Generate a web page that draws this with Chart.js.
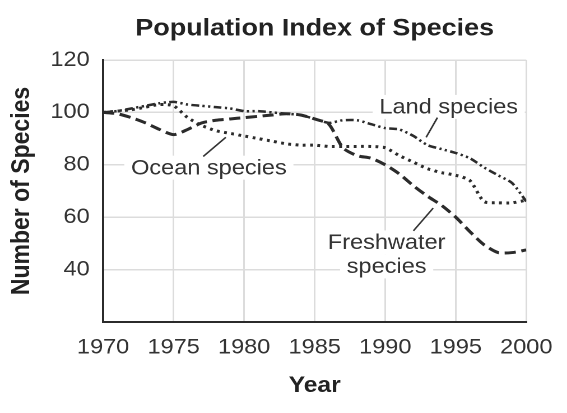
<!DOCTYPE html>
<html>
<head>
<meta charset="utf-8">
<script src="https://cdn.jsdelivr.net/npm/chart.js@4"></script>
<style>
  html, body { margin: 0; padding: 0; background: #fff; overflow: hidden; }
  #wrap { width: 506px; height: 413px; transform: scaleX(1.1206); transform-origin: 0 0; }
</style>
</head>
<body>
<div id="wrap"><canvas id="chart" width="506" height="413"></canvas></div>
<script>
const years = [1970, 1971, 1972, 1973, 1974, 1975, 1976, 1977, 1978, 1979,
               1980, 1981, 1982, 1983, 1984, 1985, 1986, 1987, 1988, 1989,
               1990, 1991, 1992, 1993, 1994, 1995, 1996, 1997, 1998, 1999, 2000];

const land = [100, 100.5, 101.5, 102.5, 103.5, 104, 103, 102.5, 102, 101.5,
              100.5, 100.5, 100, 99.5, 99, 97.5, 96, 97, 97, 95.5,
              94, 93.5, 91, 87.5, 86, 84.5, 82.5, 79, 76, 73, 66];

const ocean = [100, 100.5, 101, 102, 103, 102.5, 98, 95, 93, 92,
               91, 90, 89, 88, 87.5, 87.5, 87, 87, 87, 87,
               86.5, 83.5, 81, 78.5, 77, 76, 74, 66, 65.5, 65.5, 66.5];

const freshwater = [100, 99.5, 98, 96, 93.5, 91.5, 93.5, 96, 97, 97.5,
                    98, 98.5, 99, 99.5, 99, 97.5, 95.5, 86.5, 83.5, 82.5,
                    80, 76.5, 72, 68, 64.5, 60, 54.5, 49.5, 46.5, 46.5, 47.5];

const yTicks = [40, 60, 80, 100, 120];

// label text, anchor [year, value], leader line [[year, value], [year, value]]
const labels = [
  { lines: ['Land species'], at: [1994.5, 102.1], leader: [[1993.7, 98], [1992.9, 90.5]] },
  { lines: ['Ocean species'], at: [1977.5, 78.9], leader: [[1978.7, 90.5], [1977.1, 83.2]] },
  { lines: ['Freshwater', 'species'], at: [1990.1, 45.8], leader: [[1993.4, 63.5], [1992.0, 54.8]] }
];

const ink = '#2b2b2b';

const labelPlugin = {
  id: 'labelPlugin',
  beforeDatasetsDraw(chart) {
    const { ctx, scales: { x, y } } = chart;
    ctx.save();
    ctx.font = '21px "Liberation Sans", Arial, sans-serif';
    ctx.textAlign = 'center';
    ctx.textBaseline = 'middle';
    labels.forEach(l => {
      const cx = x.getPixelForValue(l.at[0]);
      const cy = y.getPixelForValue(l.at[1]);
      const lh = 24;
      const top = cy - lh * l.lines.length / 2;
      l.lines.forEach((t, i) => {
        const w = ctx.measureText(t).width;
        ctx.fillStyle = '#fff';
        ctx.fillRect(cx - w / 2 - 6, top + i * lh, w + 12, lh);
      });
      l.lines.forEach((t, i) => {
        ctx.fillStyle = '#333';
        ctx.fillText(t, cx, top + i * lh + lh / 2 + 1);
      });
      ctx.strokeStyle = '#333';
      ctx.lineWidth = 1.5;
      ctx.beginPath();
      ctx.moveTo(x.getPixelForValue(l.leader[0][0]), y.getPixelForValue(l.leader[0][1]));
      ctx.lineTo(x.getPixelForValue(l.leader[1][0]), y.getPixelForValue(l.leader[1][1]));
      ctx.stroke();
    });
    ctx.restore();
  },
  afterDraw(chart) {
    const { ctx, chartArea } = chart;
    ctx.save();
    ctx.font = 'bold 24px "Liberation Sans", Arial, sans-serif';
    ctx.fillStyle = '#222';
    ctx.textAlign = 'center';
    ctx.textBaseline = 'middle';
    ctx.fillText('Population Index of Species', (chartArea.left + chartArea.right) / 2, 29);
    ctx.restore();
  }
};

function series(values, dash, width) {
  return {
    data: years.map((yr, i) => ({ x: yr, y: values[i] })),
    borderColor: ink,
    borderWidth: width,
    borderDash: dash,
    borderCapStyle: 'butt',
    pointRadius: 0,
    tension: 0.25,
    fill: false
  };
}

new Chart(document.getElementById('chart'), {
  type: 'line',
  data: {
    datasets: [
      series(land, [7, 3, 2, 3, 2, 3], 2.5),
      series(ocean, [2.5, 4], 3),
      series(freshwater, [10, 5], 3)
    ]
  },
  options: {
    responsive: false,
    animation: false,
    devicePixelRatio: 2,
    layout: { padding: { top: 60, right: 31, left: 0, bottom: 0 } },
    plugins: { legend: { display: false }, title: { display: false }, tooltip: { enabled: false } },
    scales: {
      x: {
        type: 'linear',
        min: 1970,
        max: 2000,
        afterFit(s) { s.height = 91; },
        ticks: {
          stepSize: 5,
          padding: 13,
          color: '#333',
          font: { size: 21, family: '"Liberation Sans", Arial, sans-serif' },
          callback: v => String(v)
        },
        grid: { color: '#dcdcdc', lineWidth: 1.5, drawTicks: false },
        border: { color: ink, width: 2 },
        title: {
          display: true,
          text: 'Year',
          color: '#222',
          padding: { top: 0, bottom: 14 },
          font: { size: 22, weight: 'bold', family: '"Liberation Sans", Arial, sans-serif' }
        }
      },
      y: {
        min: 20,
        max: 120,
        afterFit(s) { s.width = 92; },
        afterBuildTicks(s) { s.ticks = [20].concat(yTicks).map(v => ({ value: v })); },
        ticks: {
          padding: 12,
          color: '#333',
          font: { size: 21, family: '"Liberation Sans", Arial, sans-serif' },
          callback: v => (yTicks.includes(v) ? String(v) : '')
        },
        grid: { color: '#dcdcdc', lineWidth: 1.5, drawTicks: false },
        border: { color: ink, width: 2 },
        title: {
          display: true,
          text: 'Number of Species',
          color: '#222',
          padding: { top: 6, bottom: 0 },
          font: { size: 23, weight: 'bold', family: '"Liberation Sans", Arial, sans-serif' }
        }
      }
    }
  },
  plugins: [labelPlugin]
});
</script>
</body>
</html>
